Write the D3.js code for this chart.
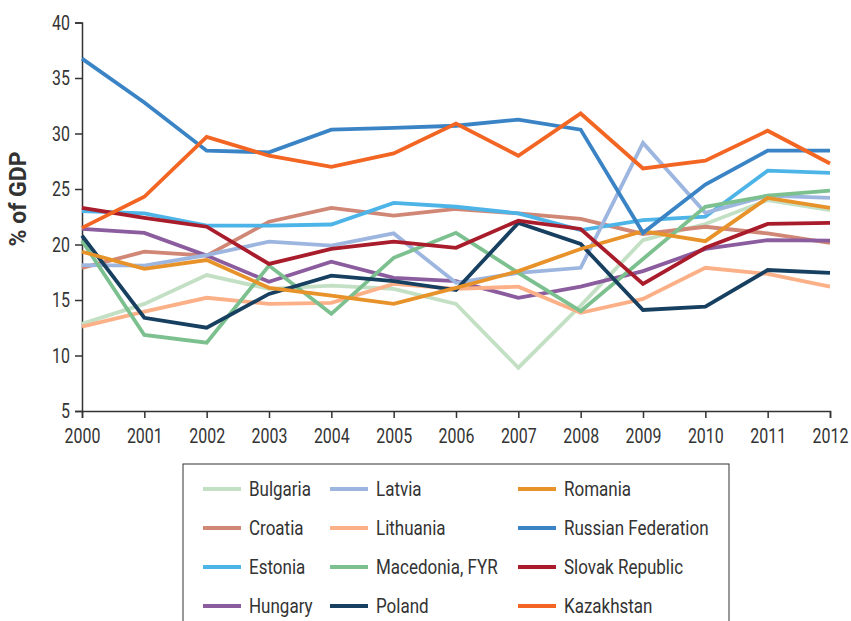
<!DOCTYPE html>
<html><head><meta charset="utf-8">
<script src="https://cdn.jsdelivr.net/npm/d3@7"></script>
<style>
body{margin:0;background:#fff;}
svg text{font-family:Roboto,"Liberation Sans",sans-serif;fill:#333;font-weight:400;}
</style></head>
<body><svg id="c" width="851" height="621"></svg>
<script>
const years = [2000,2001,2002,2003,2004,2005,2006,2007,2008,2009,2010,2011,2012];
const yTicks = [5,10,15,20,25,30,35,40];
const countries = ["Bulgaria","Croatia","Estonia","Hungary","Latvia","Lithuania","Macedonia, FYR","Poland","Romania","Russian Federation","Slovak Republic","Kazakhstan"];
const colors = ["#c3e0c5","#d08775","#4db4e8","#8b5c9e","#9db6e0","#fcb088","#7cc08f","#173f60","#e8922a","#3a84c6","#a91c2b","#f26522"];
const bulgaria   = [12.85,14.65,17.25,16.0,16.3,16.0,14.65,8.9,14.5,20.4,21.85,24.0,23.1];
const croatia    = [17.9,19.35,19.0,22.05,23.3,22.6,23.2,22.8,22.3,20.95,21.6,21.0,20.15];
const estonia    = [23.0,22.8,21.7,21.7,21.8,23.75,23.4,22.8,21.3,22.2,22.5,26.65,26.45];
const hungary    = [21.4,21.05,19.0,16.65,18.45,17.0,16.7,15.2,16.2,17.6,19.6,20.4,20.35];
const latvia     = [18.15,18.1,19.05,20.25,19.9,21.0,16.55,17.45,17.9,29.15,22.85,24.4,24.2];
const lithuania  = [12.6,13.95,15.2,14.65,14.75,16.45,16.0,16.2,13.85,15.1,17.9,17.35,16.2];
const macedonia  = [20.35,11.85,11.15,18.1,13.75,18.8,21.05,17.45,14.0,18.7,23.4,24.4,24.85];
const poland     = [20.8,13.4,12.5,15.55,17.2,16.7,15.9,21.95,20.05,14.1,14.4,17.7,17.45];
const romania    = [19.35,17.8,18.6,16.1,15.4,14.65,16.1,17.6,19.6,21.2,20.3,24.2,23.3];
const russia     = [36.75,32.8,28.45,28.3,30.35,30.5,30.7,31.25,30.35,21.05,25.4,28.45,28.45];
const slovak     = [23.3,22.4,21.6,18.25,19.6,20.25,19.7,22.15,21.4,16.45,19.7,21.85,21.95];
const kazakhstan = [21.5,24.3,29.7,28.0,27.0,28.2,30.9,28.0,31.8,26.85,27.55,30.25,27.3];
const seriesValues = [bulgaria,croatia,estonia,hungary,latvia,lithuania,macedonia,poland,romania,russia,slovak,kazakhstan];

const svg = d3.select("#c");
const x = d3.scaleLinear().domain([2000,2012]).range([82,830]);
const y = d3.scaleLinear().domain([5,40]).range([411,22.5]);
const sx = 0.76;

// axes
const xAxis = d3.axisBottom(x).tickValues(years).tickFormat(d3.format("d")).tickSizeOuter(0).tickSize(7).tickPadding(10);
const gx = svg.append("g").attr("transform","translate(0,411)").call(xAxis);
gx.selectAll("text").style("font-size","21px").attr("transform",`scale(${sx},1)`);
const yAxis = d3.axisLeft(y).tickValues(yTicks).tickSizeOuter(0).tickSize(7).tickPadding(5);
const gy = svg.append("g").attr("transform","translate(82,0)").call(yAxis);
gy.selectAll("text").style("font-size","21px").attr("x",-12/sx).attr("transform",`scale(${sx},1)`);
svg.selectAll(".domain, .tick line").attr("stroke","#333").attr("stroke-width",1.5);
svg.selectAll(".tick text").attr("fill","#333");

svg.append("text").attr("transform","translate(26,199) rotate(-90)")
  .attr("text-anchor","middle").style("font-size","23px").style("font-weight","bold")
  .text("% of GDP");

const line = d3.line().x((d,i)=>x(years[i])).y(d=>y(d));
seriesValues.forEach((vals,i)=>{
  svg.append("path").datum(vals).attr("d",line).attr("fill","none")
    .attr("stroke",colors[i]).attr("stroke-width",3.8).attr("stroke-linejoin","miter");
});

// legend
svg.append("rect").attr("x",183).attr("y",464).attr("width",546).attr("height",170)
  .attr("fill","none").attr("stroke","#333").attr("stroke-width",1);
const colX = [203,330,518];
const rowY = [489,528,567,606];
countries.forEach((c,i)=>{
  const col = Math.floor(i/4), row = i%4;
  const g = svg.append("g").attr("transform",`translate(${colX[col]},${rowY[row]})`);
  g.append("line").attr("x1",0).attr("x2",38).attr("y1",0).attr("y2",0)
    .attr("stroke",colors[i]).attr("stroke-width",4);
  g.append("text").attr("x",46).attr("y",0).attr("dy","0.35em").style("font-size","20px")
    .attr("transform",`translate(46,0) scale(0.85,1) translate(-46,0)`).text(c);
});
</script></body></html>
